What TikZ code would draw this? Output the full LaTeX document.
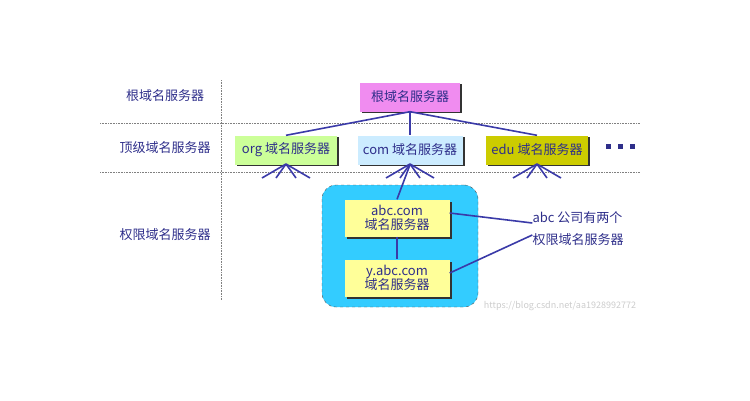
\documentclass[tikz,border=0pt]{standalone}
\usepackage{fontspec}
\setmainfont{Noto Sans CJK SC}
\begin{document}
\begin{tikzpicture}[x=1pt,y=-1pt,
  txt/.style={text=ink,font=\fontsize{13}{15}\selectfont},
  ln/.style={draw=lnc,line width=1.6pt},
  dot/.style={draw=gray,densely dotted,line width=0.6pt}]
\useasboundingbox (0,0) rectangle (750,400);
\definecolor{ink}{HTML}{2E2E8A}
\definecolor{lnc}{HTML}{3A3AA8}
% guides
\draw[dot] (221,80) -- (221,300);
\draw[dot] (100,123) -- (640,123);
\draw[dot] (100,172) -- (640,172);
\node[txt] (l1) at (165,96) {根域名服务器};
\node[txt] (l2) at (165,148) {顶级域名服务器};
\node[txt] (l3) at (165,235) {权限域名服务器};
% authority zone
\node[draw=black!70,dashed,fill={rgb,255:red,51;green,204;blue,255},rounded corners=14pt,minimum width=156pt,minimum height=122pt] (zone) at (400,246) {};
% servers
\fill[black!80] (362,84) rectangle (462,113);
\node[txt,fill={rgb,255:red,240;green,140;blue,240},minimum width=100pt,minimum height=29pt] (root) at (410,97) {根域名服务器};
\fill[black!80] (237,137) rectangle (339,166);
\node[txt,fill={rgb,255:red,204;green,255;blue,153},minimum width=102pt,minimum height=29pt,inner xsep=1pt] (org) at (286,150) {org 域名服务器};
\fill[black!80] (360,137) rectangle (465,166);
\node[txt,fill={rgb,255:red,204;green,236;blue,255},minimum width=105pt,minimum height=29pt,inner xsep=1pt] (com) at (410,150) {com 域名服务器};
\fill[black!80] (488,137) rectangle (590,166);
\node[txt,fill={rgb,255:red,204;green,204;blue,0},minimum width=102pt,minimum height=29pt,inner xsep=1pt] (edu) at (537,150) {edu 域名服务器};
\node[inner sep=0pt] (dots) at (620,146) {};
\foreach \dx in {-12,0,12}{\fill[ink] ([xshift=\dx pt]dots.center) ++(-2.5,-2.5) rectangle ++(5,5);}
\fill[black!80] (347,202) rectangle (452,239);
\node[txt,fill={rgb,255:red,255;green,255;blue,153},minimum width=105pt,minimum height=37pt,align=center,inner ysep=1pt] (abc) at (397,218) {abc.com\\[-1pt]域名服务器};
\fill[black!80] (347,262) rectangle (452,299);
\node[txt,fill={rgb,255:red,255;green,255;blue,153},minimum width=105pt,minimum height=37pt,align=center,inner ysep=1pt] (yabc) at (397,278) {y.abc.com\\[-1pt]域名服务器};
% note
\node[txt,align=left,inner sep=0pt,font=\fontsize{13}{22}\selectfont] (note) at (578,229) {abc 公司有两个\\权限域名服务器};
% connectors
\draw[ln] (root.south) -- (org.north);
\draw[ln] (root.south) -- (com.north);
\draw[ln] (root.south) -- (edu.north);
\draw[ln] (com.south) -- (abc.north);
\draw[ln] (abc.south) -- (yabc.north);
\draw[ln] (note.west) ++(0,-6) coordinate (n1) -- (abc.east |- 0,213);
\draw[ln] (note.west) ++(0,6) coordinate (n2) -- ([yshift=5pt]yabc.east);
\foreach \b/\c in {org/286,com/410,edu/537}{
  \coordinate (f\b) at (\c,164);
  \foreach \dx in {-24,-10,10,24}{\draw[ln] (f\b) -- ++(\dx,14);}
}
\node[text=black!20,font=\fontsize{9}{10}\selectfont] (wm) at (560,306) {https://blog.csdn.net/aa1928992772};
\end{tikzpicture}
\end{document}
